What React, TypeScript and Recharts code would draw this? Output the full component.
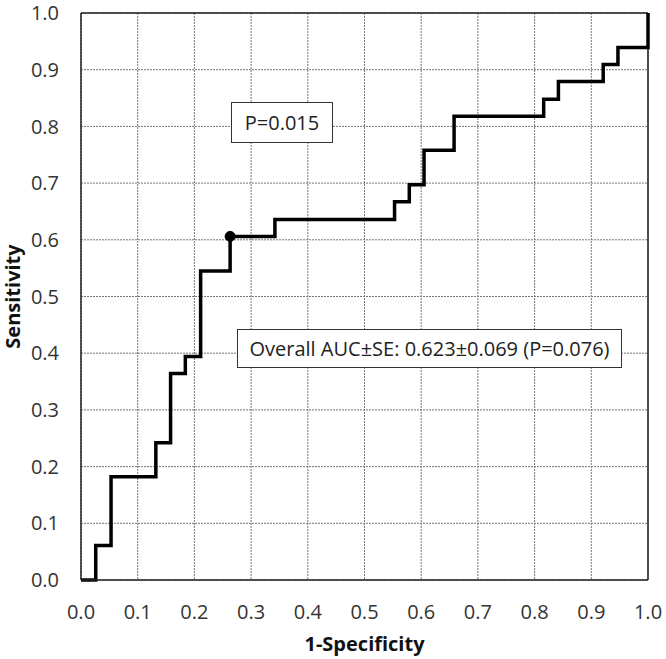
import React from 'react';
import { LineChart, Line, XAxis, YAxis, CartesianGrid, ReferenceLine, ReferenceDot } from 'recharts';

// ROC staircase: x where each vertical jump happens, sensitivity after the jump
const FPR = [0, 0.026, 0.053, 0.132, 0.158, 0.184, 0.211, 0.263, 0.342, 0.553, 0.579, 0.605, 0.658, 0.816, 0.842, 0.921, 0.947, 1.0];
const TPR = [0, 0.061, 0.182, 0.242, 0.364, 0.394, 0.545, 0.606, 0.636, 0.667, 0.697, 0.758, 0.818, 0.848, 0.879, 0.909, 0.939, 1.0];

const TICKS = [0, 0.1, 0.2, 0.3, 0.4, 0.5, 0.6, 0.7, 0.8, 0.9, 1.0];

// optimal cut-off marker
const CUTOFF = { x: 0.263, y: 0.606 };

const data = FPR.map((x, i) => ({ x, y: TPR[i] }));

const FONT = '"Open Sans", sans-serif';
const tickStyle = { fontFamily: FONT, fontSize: 20, fill: '#333' };

const boxStyle: React.CSSProperties = {
  position: 'absolute',
  border: '1.5px solid #333',
  background: '#fff',
  fontFamily: FONT,
  fontSize: 20,
  color: '#222',
  display: 'flex',
  alignItems: 'center',
  justifyContent: 'center',
  boxSizing: 'border-box',
  whiteSpace: 'nowrap',
};

const App: React.FC = () => {
  return (
    <div style={{ position: 'absolute', left: 0, top: 0, width: 666, height: 659, background: '#fff' }}>
      <LineChart width={666} height={659} data={data} margin={{ top: 13, right: 18, left: 0, bottom: 0 }}>
        <CartesianGrid stroke="#777" strokeDasharray="2 1" />
        <XAxis
          dataKey="x"
          type="number"
          domain={[0, 1]}
          ticks={TICKS}
          tickFormatter={(v) => v.toFixed(1)}
          tick={tickStyle}
          tickLine={false}
          tickSize={0}
          tickMargin={25}
          height={79}
          axisLine={{ stroke: '#222', strokeWidth: 1.5 }}
          label={{ value: '1-Specificity', position: 'insideBottom', offset: 8, style: { fontFamily: FONT, fontSize: 20, fontWeight: 700, fill: '#111' } }}
        />
        <YAxis
          type="number"
          domain={[0, 1]}
          ticks={TICKS}
          tickFormatter={(v) => v.toFixed(1)}
          tick={tickStyle}
          tickLine={false}
          tickSize={0}
          tickMargin={22}
          width={81}
          axisLine={{ stroke: '#222', strokeWidth: 1.5 }}
          label={{ value: 'Sensitivity', angle: -90, position: 'insideLeft', offset: 13, style: { fontFamily: FONT, fontSize: 20, fontWeight: 700, fill: '#111', textAnchor: 'middle' } }}
        />
        <ReferenceLine x={1} stroke="#222" strokeWidth={1.5} />
        <ReferenceLine y={1} stroke="#222" strokeWidth={1.5} />
        <Line
          dataKey="y"
          type="stepAfter"
          stroke="#000"
          strokeWidth={3.5}
          dot={false}
          activeDot={false}
          isAnimationActive={false}
        />
        <ReferenceDot x={CUTOFF.x} y={CUTOFF.y} r={5} fill="#000" stroke="#000" />
      </LineChart>
      <div style={{ ...boxStyle, left: 231, top: 102, width: 102, height: 41 }}>P=0.015</div>
      <div style={{ ...boxStyle, left: 237, top: 329, width: 385, height: 39 }}>Overall AUC±SE: 0.623±0.069 (P=0.076)</div>
    </div>
  );
};

export default App;
